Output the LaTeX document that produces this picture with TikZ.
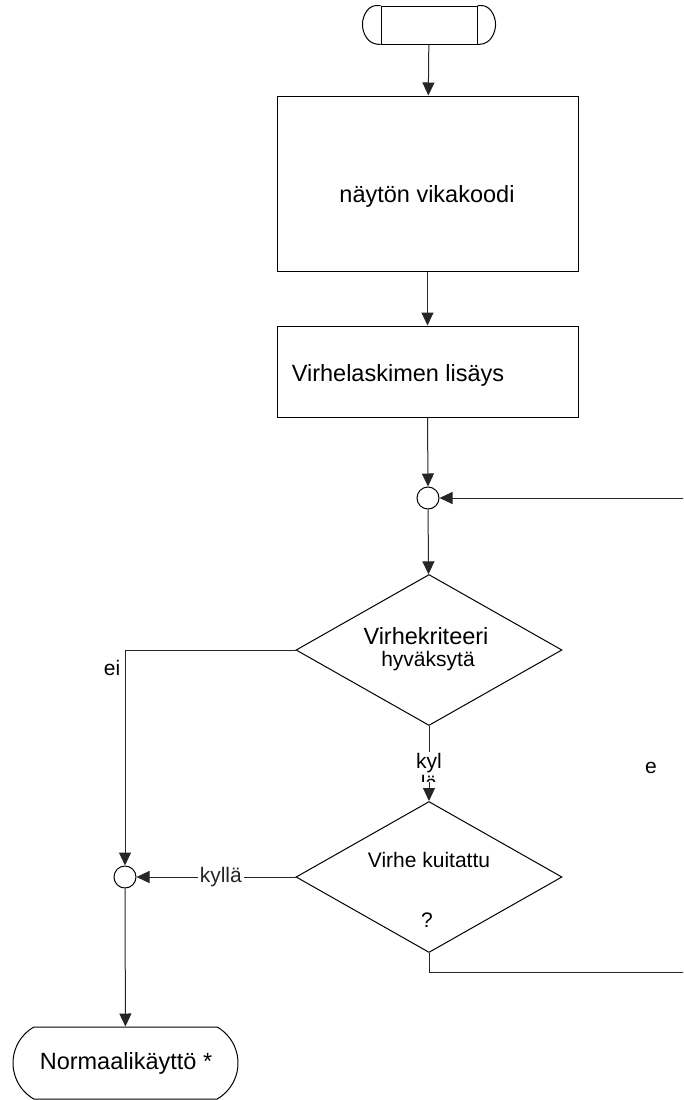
\documentclass[tikz,border=0pt]{standalone}
\usepackage{fontspec}
\setmainfont{Liberation Sans}
\usetikzlibrary{positioning, arrows.meta, shapes.geometric, shapes.misc}

\begin{document}
\begin{tikzpicture}[x=1pt, y=-1pt, >={Triangle[length=13pt, width=12pt]}, line width=1pt,
  box/.style={draw, minimum width=301pt, inner sep=0pt},
  decision/.style={draw, diamond, minimum width=266pt, minimum height=151pt, inner sep=0pt},
  joint/.style={draw, circle, minimum size=22pt, inner sep=0pt},
  flow/.style={->, black!85},
  big/.style={font=\fontsize{23.5}{27}\selectfont},
  small/.style={font=\fontsize{21}{22}\selectfont}]
  \useasboundingbox (0,0) rectangle (683,1100);
  \clip (0,0) rectangle (683,1100);

  % start terminal
  \node[draw, minimum width=96pt, minimum height=38pt, inner sep=0pt] (start) at (429,25) {};
  \draw[rounded corners=6pt] (start.north west) -- ++(-10,0) -- ++(-8,12) -- ++(0,14) -- ++(8,12) -- (start.south west);
  \draw[rounded corners=6pt] (start.north east) -- ++(10,0) -- ++(8,12) -- ++(0,14) -- ++(-8,12) -- (start.south east);

  % process boxes
  \node[box, minimum height=175pt] (code) at (427.5,183.5) {};
  \node[big] (codetxt) at (427,196) {näytön vikakoodi};
  \node[box, minimum height=91pt] (count) at (427.5,371.5) {};
  \node[big, anchor=west] (counttxt) at (288,375) {Virhelaskimen lisäys};

  % joints and decisions
  \node[joint] (j1) at (428,498) {};
  \node[decision] (d1) at (429,650) {};
  \node[big] (d1a) at (426,636) {Virhekriteeri};
  \node[small] (d1b) at (428,661) {hyväksytä};
  \node[decision] (d2) at (429,877) {};
  \node[small] (d2a) at (429,860) {Virhe kuitattu};
  \node[small] (d2b) at (427,920) {?};
  \node[joint] (j2) at (125,877) {};

  % end terminal
  \node[draw, rounded rectangle, rounded rectangle arc length=120, minimum width=225pt, minimum height=72pt, inner sep=0pt] (stop) at (125.5,1063) {};
  \node[big] (stoptxt) at (126,1063) {Normaalikäyttö *};

  \coordinate (loopB) at (705,972);

  \draw[flow] (start) -- (code);
  \draw[flow] (code) -- (count);
  \draw[flow] (count.south) -- (j1.north);
  \draw[flow] (j1) -- (d1);
  \draw[flow] (d1.west) -| (j2.north);
  \node[small] (ei) at (112,668) {ei};
  \draw[flow] (d1.south) -- (d2.north);
  \begin{scope}
    \clip (395,740) rectangle (465,781);
    \node[small, fill=white, align=center, inner sep=1pt] (kyl) at (429,772) {kyl\\lä};
  \end{scope}
  \draw[flow] (d2.west) -- (j2.east) node[small, pos=0.47, fill=white, inner sep=2pt] (kylla) {kyllä};
  \draw[flow] (d2.south) |- (loopB) |- (j1.east);
  \node[small] (e) at (651,768) {e};
  \draw[flow] (j2) -- (stop);
\end{tikzpicture}
\end{document}
